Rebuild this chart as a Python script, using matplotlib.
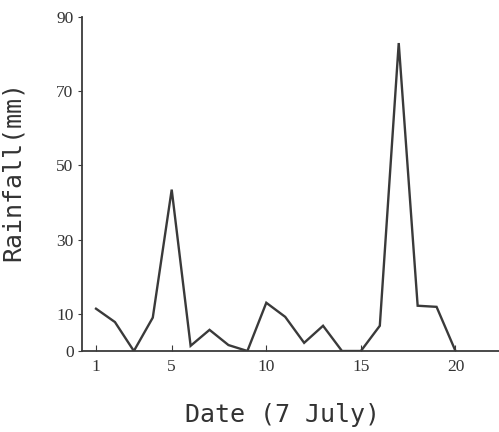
import matplotlib.pyplot as plt

# daily rainfall, July
days = list(range(1, 21))
rain = [11.4, 7.8, 0, 9, 43.5, 1.4, 5.7, 1.6, 0, 13,
        9.2, 2.2, 6.8, 0, 0, 6.8, 83, 12.2, 11.9, 0]
xticks = [1, 5, 10, 15, 20]
yticks = [0, 10, 30, 50, 70, 90]

ink = '#3a3a3a'

fig = plt.figure(figsize=(4.99, 4.32), dpi=100)
ax = fig.add_axes([0.164, 0.1875, 0.836, 0.773])

ax.plot(days, rain, color=ink, linewidth=1.7, solid_joinstyle='miter')

ax.set_xlim(0.25, 22.3)
ax.set_ylim(0, 90)
ax.set_xticks(xticks)
ax.set_yticks(yticks)

for side in ('top', 'right'):
    ax.spines[side].set_visible(False)
for side in ('left', 'bottom'):
    ax.spines[side].set_color(ink)
    ax.spines[side].set_linewidth(1.3)

ax.tick_params(axis='x', direction='in', length=4, color=ink,
               labelsize=12.5, pad=6, labelcolor='#333333')
ax.tick_params(axis='y', direction='out', length=3, color=ink,
               labelsize=12.5, pad=3, labelcolor='#333333')
for lbl in ax.get_xticklabels() + ax.get_yticklabels():
    lbl.set_family('Liberation Serif')

ax.set_xlabel('Date (7 July)', family='DejaVu Sans Mono', fontsize=18,
              color='#333333')
ax.set_ylabel('Rainfall(mm)', family='DejaVu Sans Mono', fontsize=18,
              color='#333333')
ax.xaxis.set_label_coords(0.48, -0.155)
ax.yaxis.set_label_coords(-0.137, 0.54)

fig.savefig('out.png', dpi=100)
